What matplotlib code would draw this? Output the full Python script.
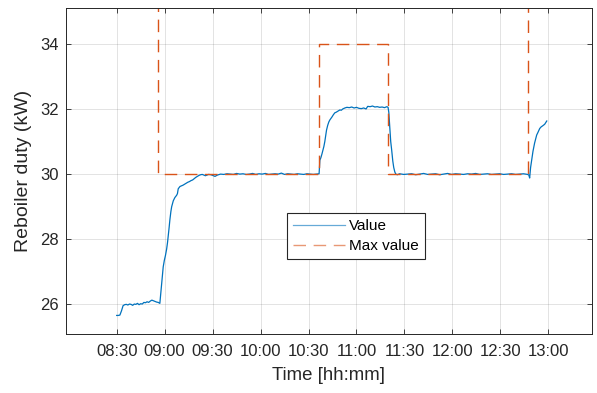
import numpy as np
import matplotlib
matplotlib.use("Agg")
import matplotlib.pyplot as plt
import matplotlib.dates as mdates

plt.rcParams['font.family'] = ['Liberation Sans', 'DejaVu Sans']

# reboiler duty log, minutes after 08:30
minutes = [0, 1, 2, 3, 4, 5, 6, 7, 8, 9,
           10, 11, 12, 13, 14, 15, 16, 17, 18, 19,
           20, 21, 22, 23, 24, 25, 26, 27, 27.6, 28.1,
           28.6, 29.1, 29.8, 30.5, 31.25, 31.8, 32.25, 32.8, 33.3, 33.9,
           34.4, 35.4, 36.4, 37.5, 38.0, 38.5, 39.6, 40.5, 41.5, 42.5,
           43.5, 44.5, 45.5, 46.5, 47.5, 48.5, 49.5, 50.5, 51.5, 52.5,
           53.5, 54.5, 55.5, 56.5, 57.5, 59, 60, 61.5, 63, 65,
           67, 69, 71, 73, 75, 77, 79, 81, 83, 85,
           87, 89, 91, 93, 95, 97, 99, 101, 103, 105,
           107, 109, 111, 113, 115, 117, 119, 121, 123, 125,
           126.6, 127.1, 127.7, 128.4, 129, 129.6, 130.2, 130.8, 131.25, 132,
           132.7, 133.3, 134.6, 135.5, 136.4, 137.3, 138.3, 139.6, 140.5, 141.4,
           142.7, 144, 145.5, 147, 148.5, 150, 151.5, 153, 154.5, 156,
           157, 158.5, 160, 161.5, 163, 164.5, 166, 167.5, 169, 169.75,
           170.2, 170.8, 171.4, 172, 172.7, 173.3, 174, 174.6, 175.5, 177,
           179.5, 182, 184.5, 187, 189.5, 192, 194.5, 197, 199.5, 202,
           204.5, 207, 209.5, 212, 214.5, 217, 219.5, 222, 224.5, 227,
           229.5, 232, 234.5, 237, 239.5, 242, 244.5, 247, 249.5, 252,
           254.5, 257, 257.8, 258.3, 258.9, 259.6, 260.4, 261.4, 262.7, 263.3,
           264.6, 265.5, 266.4, 267.7, 268.4, 269]
duty = [25.66, 25.66, 25.67, 25.80, 25.96, 25.99, 26.00, 25.98, 26.01, 26.00,
        25.97, 26.01, 26.00, 26.03, 25.99, 26.02, 26.01, 26.06, 26.05, 26.08,
        26.06, 26.10, 26.13, 26.11, 26.09, 26.07, 26.06, 26.03, 26.35, 26.65,
        26.90, 27.15, 27.35, 27.50, 27.70, 27.90, 28.10, 28.35, 28.60, 28.85,
        29.00, 29.18, 29.28, 29.35, 29.40, 29.55, 29.62, 29.64, 29.66, 29.69,
        29.72, 29.75, 29.77, 29.80, 29.82, 29.86, 29.90, 29.93, 29.96, 29.98,
        29.99, 29.97, 29.95, 29.97, 29.99, 29.98, 29.96, 29.93, 29.97, 30.00,
        29.99, 30.01, 30.00, 29.99, 30.02, 30.00, 30.01, 29.99, 30.00, 30.02,
        29.99, 30.01, 30.00, 30.02, 29.99, 30.00, 30.01, 30.00, 30.03, 29.99,
        30.01, 30.00, 29.99, 30.01, 30.00, 29.99, 30.01, 30.00, 29.99, 30.00,
        30.01, 30.43, 30.50, 30.62, 30.74, 30.85, 31.00, 31.20, 31.35, 31.50,
        31.60, 31.66, 31.75, 31.82, 31.88, 31.90, 31.93, 31.97, 31.96, 32.00,
        32.03, 32.05, 32.04, 32.06, 32.03, 32.05, 32.02, 32.01, 32.03, 32.00,
        32.08, 32.07, 32.09, 32.06, 32.07, 32.05, 32.06, 32.04, 32.07, 32.05,
        31.90, 31.45, 31.00, 30.74, 30.40, 30.20, 30.06, 30.00, 29.98, 30.01,
        29.99, 30.00, 30.01, 29.98, 30.00, 30.02, 29.99, 30.00, 30.01, 29.98,
        30.00, 30.02, 29.99, 30.01, 30.00, 29.99, 30.01, 30.00, 30.02, 29.99,
        30.00, 30.01, 29.99, 30.00, 30.01, 29.99, 30.00, 30.01, 29.99, 30.00,
        30.01, 29.99, 29.97, 29.88, 30.20, 30.43, 30.70, 30.95, 31.20, 31.26,
        31.40, 31.45, 31.48, 31.53, 31.58, 31.63]

# upper limit set-points (steps)
max_minutes = [0, 26, 126.6, 169.75, 257.5, 269]
max_duty = [40, 30, 34, 30, 40, 40]

ytick_vals = [26, 28, 30, 32, 34]

start = np.datetime64('2000-01-01T08:30')
t = start + (np.array(minutes) * 60).astype('timedelta64[s]')
t_max = start + (np.array(max_minutes) * 60).astype('timedelta64[s]')

blue = '#0072BD'
orange = '#D95319'
dark = '#262626'

fig = plt.figure(figsize=(5.97, 3.93), dpi=100)
ax = fig.add_axes([66 / 597, 1 - 334 / 393, (592 - 66) / 597, (334 - 8) / 393])

ax.plot(t, duty, color=blue, lw=0.9, label='Value')
ax.plot(t_max, max_duty, color=orange, lw=1.0, dashes=(9, 5.5),
        drawstyle='steps-post', label='Max value')

ax.set_xlim(start - np.timedelta64(int(31.7 * 60), 's'),
            start + np.timedelta64(int(297.3 * 60), 's'))
ax.set_ylim(25.09, 35.1)
ax.set_yticks(ytick_vals)
ticks = start + np.arange(0, 271, 30).astype('timedelta64[m]')
ax.set_xticks(ticks)
ax.xaxis.set_major_formatter(mdates.DateFormatter('%H:%M'))

ax.grid(True, color=dark, alpha=0.15, lw=0.6)
ax.tick_params(direction='in', length=3.5, width=0.6, colors=dark,
               labelsize=12, top=True, right=True)
ax.tick_params(axis='x', pad=7)
ax.tick_params(axis='y', pad=5)
for s in ax.spines.values():
    s.set_color(dark)
    s.set_linewidth(0.7)

ax.set_xlabel('Time [hh:mm]', fontsize=13.4, color=dark, labelpad=6)
ax.set_ylabel('Reboiler duty (kW)', fontsize=14, color=dark, labelpad=6)

leg = fig.legend(loc='upper left', bbox_to_anchor=(286.7 / 597, 1 - 213.3 / 393),
                 bbox_transform=fig.transFigure, fontsize=11, frameon=True,
                 fancybox=False, framealpha=1, edgecolor=dark, borderaxespad=0,
                 handlelength=3.4, handletextpad=0.3, borderpad=0.4,
                 labelspacing=0.38)
leg.get_frame().set_linewidth(0.8)
for h in leg.legend_handles:
    h.set_alpha(0.6)

fig.savefig('out.png', dpi=100)
